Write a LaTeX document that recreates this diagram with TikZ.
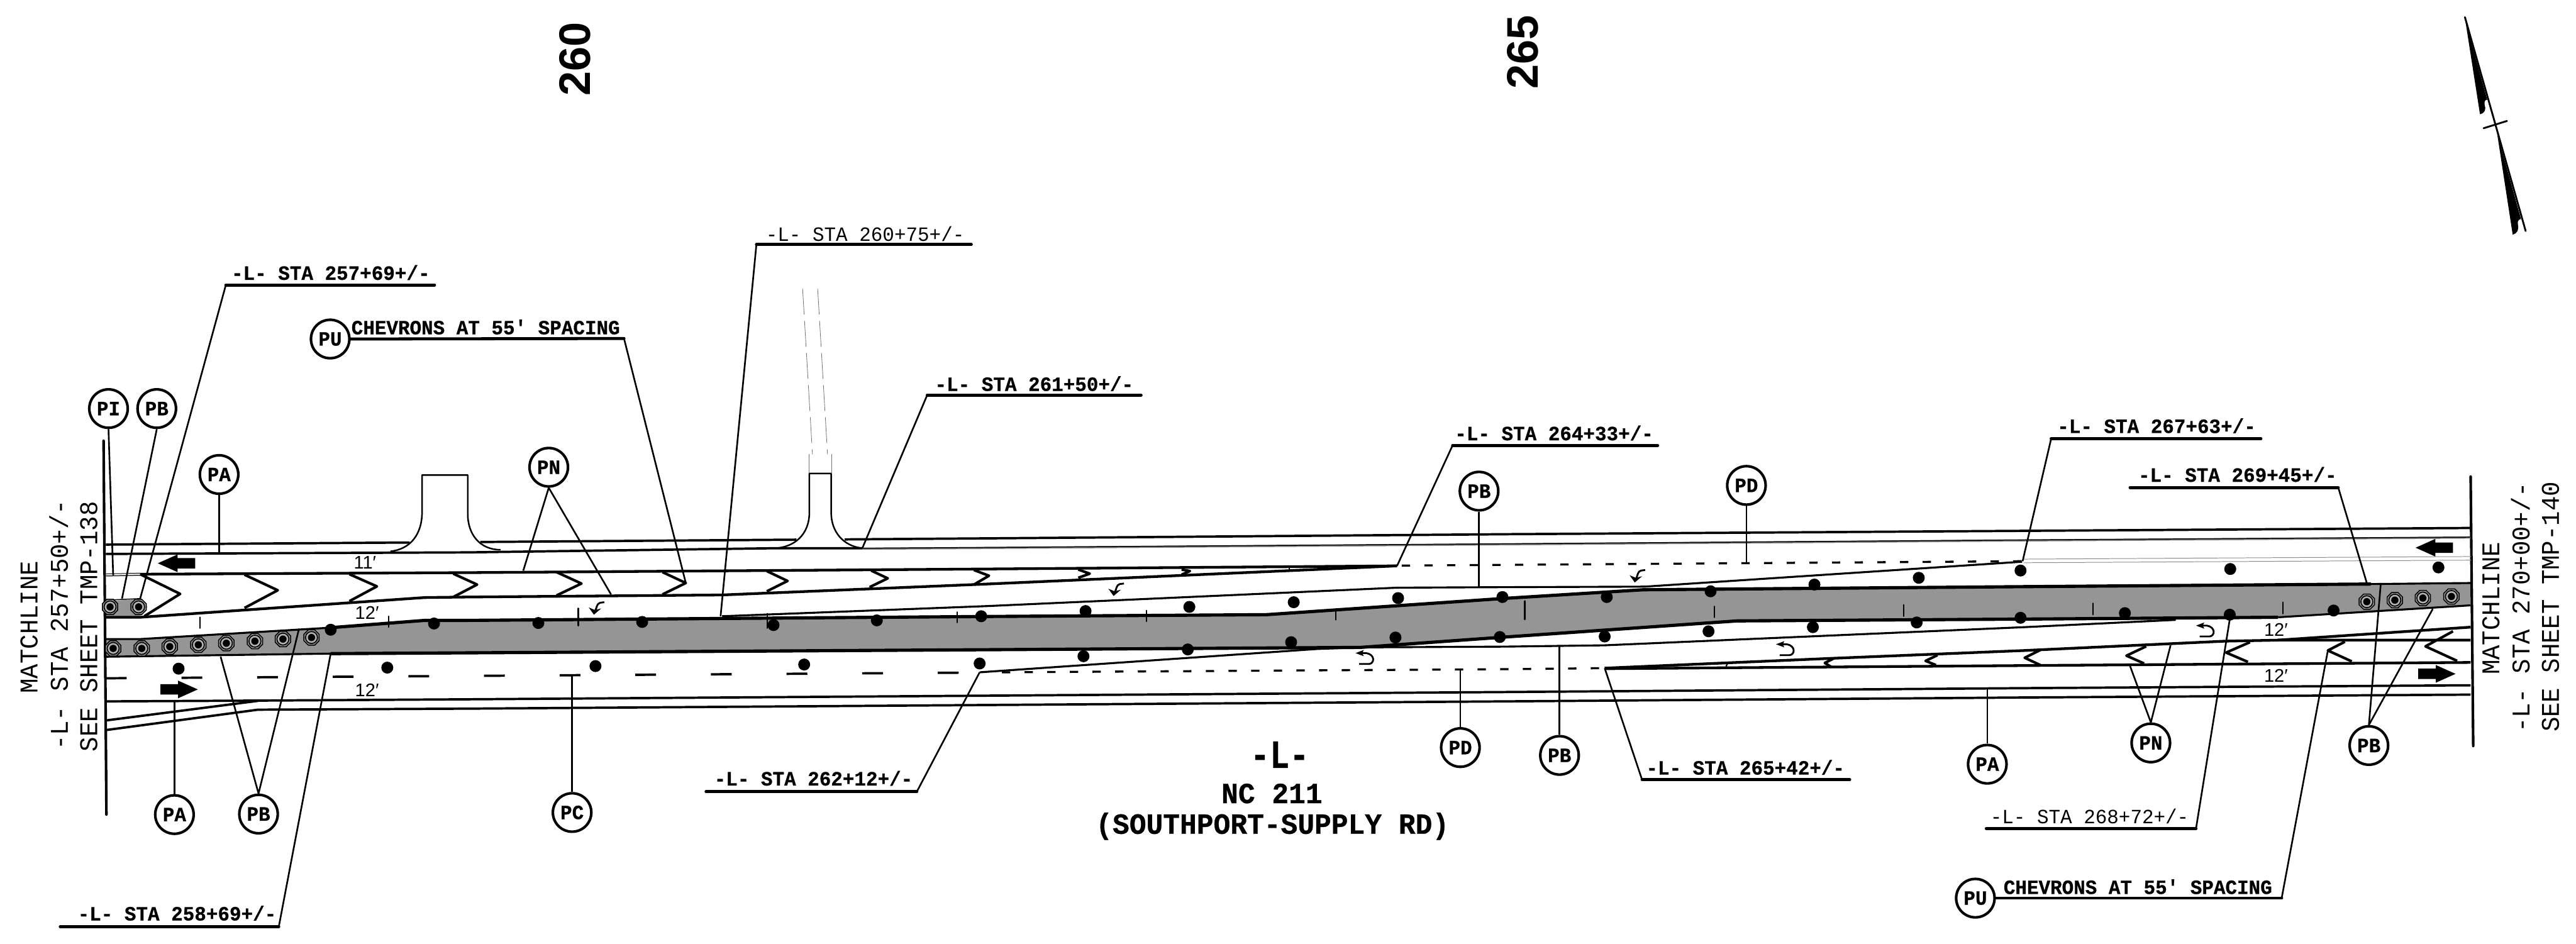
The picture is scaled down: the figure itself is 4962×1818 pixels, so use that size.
\documentclass[tikz,border=0pt]{standalone}
\usepackage{fontspec}
\newfontfamily\monof[FakeStretch=0.96,BoldFeatures={FakeBold=0.6}]{Liberation Mono}
\newfontfamily\monoL[FakeStretch=0.82,BoldFeatures={FakeBold=0.6}]{Liberation Mono}
\newfontfamily\sansn{Liberation Sans}
\newfontfamily\sansb{Liberation Sans}
\tikzset{
 road/.style={line width=0.045cm,line join=round},
 edgeb/.style={line width=0.052cm,line join=round},
 median/.style={line width=0.062cm,line join=round},
 thinl/.style={line width=0.038cm,line join=round},
 leader/.style={line width=0.032cm},
 under/.style={line width=0.058cm,line cap=round,line join=miter},
 chev/.style={line width=0.05cm,line join=round},
 drive/.style={line width=0.03cm,line join=round},
 tick/.style={line width=0.027cm,line cap=round},
 bubble/.style={circle,draw,line width=0.05cm,fill=white,minimum size=0.74cm,inner sep=0pt,font=\monof\bfseries\fontsize{11.1}{11.1}\selectfont},
 stab/.style={anchor=base,inner sep=0pt,font=\monof\bfseries\fontsize{11.1}{11.1}\selectfont},
 star/.style={anchor=base,inner sep=0pt,font=\monof\fontsize{11.1}{11.1}\selectfont},
 titleb/.style={anchor=base,inner sep=0pt,font=\monof\bfseries\fontsize{16}{16}\selectfont},
 lanew/.style={inner sep=0pt,font=\sansn\fontsize{10}{10}\selectfont},
 station/.style={rotate=90,inner sep=0pt,font=\sansb\bfseries\fontsize{24.2}{24.2}\selectfont},
 matchl/.style={rotate=90,inner sep=0pt,font=\monof\fontsize{14}{14}\selectfont},
 matchb/.style={rotate=90,inner sep=0pt,font=\monof\bfseries\fontsize{14}{14}\selectfont},
 bolt/.pic={
  \draw[line width=0.018cm,fill=black!42] (22.5:16)--(67.5:16)--(112.5:16)--(157.5:16)--(202.5:16)--(247.5:16)--(292.5:16)--(337.5:16)--cycle;
  \draw[line width=0.02cm,fill=black!30] (0,0) circle[radius=11.5];
  \fill (0,0) circle[radius=7];
 },
 lturn/.pic={
  \draw[line width=0.035cm] (15,-10)--(7,-9) .. controls (0,-7) and (1,0) .. (-3,8);
  \fill (-5,14)--(-15,0)--(-3,5)--(9,2)--cycle;
 },
 uturn/.pic={
  \draw[line width=0.035cm] (-12,11)--(7,11) .. controls (18,10) and (19,-7) .. (2,-10)--(-14,-10);
  \fill (-19,-10)--(-3,-16)--(-6,-10)--(-3,-4)--cycle;
 },
 larrow/.pic={\fill (0,0)--(38,-17)--(38,-10)--(72,-10)--(72,10)--(38,10)--(38,17)--cycle;},
 rarrow/.pic={\fill (0,0)--(-38,-17)--(-38,-10)--(-72,-10)--(-72,10)--(-38,10)--(-38,17)--cycle;},
}
\begin{document}
\begin{tikzpicture}[x=0.01cm,y=-0.01cm]
\useasboundingbox (0,0) rectangle (4962,1818);
\fill[white] (0,0) rectangle (4962,1818);

% median fill
\fill[black!41.5] (204,1231)--(270,1231)--(637,1209)--(818,1195)--(900,1195)--(1900,1187.5)--(2439,1184)--(2900,1152.5)--(3165,1136)--(3900,1130)--(4567,1125)--(4759,1123)--(4759,1166)--(4388,1189)--(3900,1192.5)--(3346,1196)--(2900,1227)--(2621,1247)--(1900,1251.5)--(900,1257.5)--(637,1259)--(204,1265)--cycle;
\fill[black!41.5] (204,1158)--(270,1154)--(284,1169)--(270,1187)--(204,1187)--cycle;

% matchlines
\draw[line width=0.05cm,line cap=round] (199.5,849)--(205,1569);
\draw[line width=0.05cm,line cap=round] (4759,918)--(4764,1437);

% driveways
\draw[drive] (752,1062) .. controls (790,1058) and (813,1030) .. (813,986)--(813,915)--(901,915)--(901,990) .. controls (901,1030) and (925,1059) .. (964,1059);
\draw[drive] (1493,1056) .. controls (1530,1054) and (1559,1030) .. (1559,987)--(1559,912)--(1601,912)--(1601,987) .. controls (1601,1025) and (1625,1052) .. (1661,1056);
\draw[black!55,line width=0.01cm,dash pattern=on 0.5cm off 0.12cm] (1546,556)--(1565,875);
\draw[black!55,line width=0.01cm,dash pattern=on 0.5cm off 0.12cm] (1575,556)--(1594,875);
\draw[black!55,line width=0.012cm] (1558,875)--(1558,911);
\draw[black!55,line width=0.012cm] (1602,875)--(1602,911);

% frontage lines
\draw[road] (204,1049)--(789,1045);
\draw[road] (925,1044)--(1534,1039.5);
\draw[road] (1627,1039)--(1900,1037)--(2900,1029)--(3900,1022.5)--(4759,1017);
\draw[road] (204,1067)--(900,1064)--(1493,1056)--(1661,1056);
\draw[black!50,line width=0.04cm] (1661,1057)--(1900,1055.5)--(2900,1048.5)--(3900,1041)--(4759,1035.5);
\draw[line width=0.018cm] (1661,1056)--(1900,1054.5)--(2900,1047.5)--(3900,1040)--(4759,1034.5);
\draw[black!45,line width=0.012cm] (3898,1077)--(4760,1072);
\draw[black!45,line width=0.012cm] (3898,1084)--(4760,1079);

% upper chevron island
\draw[line width=0.012cm] (204,1105.5)--(270,1104);
\draw[line width=0.015cm] (204,1109.5)--(270,1108);
\draw[edgeb] (270,1106)--(900,1103)--(1900,1096)--(2691,1090);
\draw[edgeb] (204,1189)--(270,1189)--(818,1151)--(900,1150)--(1391,1146)--(1900,1125)--(2691,1090);
\draw[line width=0.018cm] (204,1156)--(270,1153);
\draw[thinl] (1391,1187)--(1900,1167.5)--(2691,1132)--(2900,1131)--(3168,1130)--(3895,1082);
\draw[line width=0.04cm,dash pattern=on 0.16cm off 0.276cm] (2700,1089.5)--(2900,1088)--(3895,1081);

% median edges
\draw[thinl] (204,1231)--(270,1231)--(637,1209);
\draw[median] (637,1209)--(818,1195)--(900,1195)--(1900,1187.5)--(2439,1184)--(2900,1152.5)--(3165,1136)--(3900,1130)--(4567,1125);
\draw[thinl] (4567,1125)--(4759,1123);
\draw[thinl] (204,1265)--(637,1259);
\draw[median] (637,1259)--(900,1257.5)--(1900,1251.5)--(2621,1247)--(2900,1227)--(3346,1196)--(3900,1192.5)--(4388,1189);
\draw[thinl] (4388,1189)--(4759,1166);

% lower lane lines
\draw[thinl] (1887,1295)--(2538,1250)--(2621,1247)--(2900,1245.5)--(3091,1243)--(3900,1208)--(4191,1194);
\draw[line width=0.045cm,dash pattern=on 0.4cm off 1.056cm] (204,1306.5)--(1887,1295.5);
\draw[line width=0.04cm,dash pattern=on 0.16cm off 0.276cm] (1930,1295)--(2900,1289)--(3091,1287);
\draw[edgeb] (3091,1287)--(3531,1268)--(3900,1253)--(4286,1235)--(4391,1233)--(4759,1233);
\draw[edgeb] (3091,1288)--(3900,1282)--(4759,1276);
\draw[edgeb] (4388,1233)--(4759,1208);

% bottom road
\draw[road] (206,1351)--(497,1349.5)--(900,1347)--(1900,1340)--(2900,1333)--(3900,1325.5)--(4759,1320);
\draw[road] (206,1387.5)--(497,1350);
\draw[road] (206,1406)--(497,1367)--(900,1365)--(1900,1358)--(2900,1351)--(3900,1343.5)--(4759,1338);

% chevrons
\foreach \a/\b/\c/\d/\e/\f in {270/1106/347/1144/278/1187,471/1107/535/1137/471/1171,673/1106/726/1129.5/673/1158,873/1105/919/1126/873/1150,1072/1102/1120/1124/1072/1147,1276/1102/1321/1123/1276/1145,1477/1100/1517/1119/1477/1139,1678/1099/1710/1114/1675/1131,1876/1098/1905/1109/1876/1126,2077/1097/2099/1105/2077/1113,2276/1097/2292/1100/2276/1107,3531/1269/3515/1277/3528/1285,3732/1262/3709/1273/3729/1281,3930/1252/3900/1267/3930/1281,4134/1245/4096/1263/4130/1278,4334/1237/4288/1257/4330/1275,4517/1236/4484/1253/4530/1274,4725/1216/4672/1245/4733/1273}
 \draw[chev] (\a,\b)--(\c,\d)--(\e,\f);
\draw[tick] (2483,1093)--(2483,1100);
\draw[tick] (3327,1279)--(3325,1283);

% ticks
\foreach \x/\y/\z in {385/1189/1210,749/1187/1208,1478/1182/1210,1844/1179/1199,2208/1176/1197,2573/1178/1194,3302/1168/1189,3667/1165/1187,4032/1162/1184,4397/1160/1182}
 \draw[tick] (\x,\y)--(\x,\z);
\draw[line width=0.035cm,line cap=round] (1114,1172)--(1114,1205);
\draw[line width=0.035cm,line cap=round] (2937,1158)--(2937,1193);

% bolts
\foreach \x/\y in {212/1169,267/1169,218/1249,273/1249,327/1245.5,382/1242,436/1239,491/1235,545/1231,600/1228,4559/1159,4613/1156,4667/1152,4722/1149}
 \pic at (\x,\y) {bolt};

% dots
\foreach \x/\y in {637/1213,836/1201,1037/1200,1237/1198,1490/1204,1689/1195,1890/1187,2091/1177,2291/1169,2492/1160,2693/1152,2894/1150,3095/1150,3295/1139,3495/1126,3696/1113,3892/1099,4296/1096,4697/1093,344/1288,746/1286,1147/1283,1549/1280,1887/1278,2087/1264,2288/1251,2487/1237,2688/1228,2889/1227,3091/1226,3291/1216,3492/1208,3692/1199,3892/1190,4093/1181,4295/1184,4495/1176}
 \fill (\x,\y) circle[radius=11.5];

% pavement arrows
\foreach \x/\y in {1149/1170,2150/1134,3154/1108} \pic at (\x,\y) {lturn};
\foreach \x/\y in {2630/1268,3440/1251,4249/1215} \pic at (\x,\y) {uturn};
\pic at (304,1085) {larrow};
\pic at (4653,1055) {larrow};
\pic at (381,1328) {rarrow};
\pic at (4730,1298) {rarrow};

% lane widths
\node[lanew] (w1) at (703,1084) {11′};
\node[lanew] (w2) at (707,1180) {12′};
\node[lanew] (w3) at (707,1329) {12′};
\node[lanew] (w4) at (4384,1213) {12′};
\node[lanew] (w5) at (4384,1302) {12′};

% bubbles
\node[bubble] (pi) at (209,787) {PI};
\node[bubble] (pba) at (302,787) {PB};
\node[bubble] (paa) at (422,914) {PA};
\node[bubble] (pua) at (636,653) {PU};
\node[bubble] (pna) at (1057,900) {PN};
\node[bubble] (pbb) at (2849,946) {PB};
\node[bubble] (pda) at (3364,935) {PD};
\node[bubble] (pab) at (336,1569) {PA};
\node[bubble] (pbc) at (498,1568) {PB};
\node[bubble] (pc) at (1102,1565) {PC};
\node[bubble] (pdb) at (2813,1440) {PD};
\node[bubble] (pbd) at (3004,1455) {PB};
\node[bubble] (pac) at (3828,1472) {PA};
\node[bubble] (pnb) at (4143,1431) {PN};
\node[bubble] (pbe) at (4563,1436) {PB};
\node[bubble] (pub) at (3805,1730) {PU};

% leader ends
\coordinate (e1) at (218,1108);
\coordinate (e2) at (235,1153);
\coordinate (e3) at (422,1064);
\coordinate (e4) at (1008,1099);
\coordinate (e5) at (1177,1145);
\coordinate (e6) at (2849,1131);
\coordinate (e7) at (3364,1085);
\coordinate (e8) at (336,1352);
\coordinate (e9) at (425,1265);
\coordinate (e10) at (576,1211);
\coordinate (e11) at (1102,1302);
\coordinate (e12) at (2813,1289);
\coordinate (e13) at (3004,1245);
\coordinate (e14) at (3828,1328);
\coordinate (e15) at (4181,1243);
\coordinate (e16) at (4103,1283);
\coordinate (e17) at (4586,1123);
\coordinate (e18) at (4686,1173);
\draw[leader] (pi.south)--(e1);
\draw[leader] (pba.south)--(e2);
\draw[leader] (paa)--(e3);
\draw[leader] (pna.south)--(e4);
\draw[leader] (pna.south)--(e5);
\draw[leader] (pbb)--(e6);
\draw[leader] (pda)--(e7);
\draw[leader] (pab)--(e8);
\draw[leader] (pbc.north)--(e9);
\draw[leader] (pbc.north)--(e10);
\draw[leader] (pc)--(e11);
\draw[leader] (pdb)--(e12);
\draw[leader] (pbd)--(e13);
\draw[leader] (pac)--(e14);
\draw[leader] (pnb.north)--(e15);
\draw[leader] (pnb.north)--(e16);
\draw[leader] (pbe.north)--(e17);
\draw[leader] (pbe.north)--(e18);

% station labels
\node[stab] (s1) at (637,539) {-L- STA 257+69+/-};
\coordinate (s1a) at (435,549); \coordinate (s1b) at (837,549); \coordinate (s1c) at (270,1153);
\draw[under] (s1b)--(s1a); \draw[leader] (s1a)--(s1c);

\node[stab] (cha) at (935.5,644) {CHEVRONS AT 55′ SPACING};
\coordinate (cha1) at (1202,652); \coordinate (cha2) at (1321,1123);
\draw[under] (pua.east)--(cha1); \draw[leader] (cha1)--(cha2);

\node[star] (s2) at (1666.5,465) {-L- STA 260+75+/-};
\coordinate (s2a) at (1457,471); \coordinate (s2b) at (1871,471); \coordinate (s2c) at (1388,1187);
\draw[under] (s2b)--(s2a); \draw[leader] (s2a)--(s2c);

\node[stab] (s3) at (1992,753) {-L- STA 261+50+/-};
\coordinate (s3a) at (1786,761); \coordinate (s3b) at (2198,761); \coordinate (s3c) at (1661,1056);
\draw[under] (s3b)--(s3a); \draw[leader] (s3a)--(s3c);

\node[stab] (s4) at (2993.5,848) {-L- STA 264+33+/-};
\coordinate (s4a) at (2798,858); \coordinate (s4b) at (3193,858); \coordinate (s4c) at (2691,1090);
\draw[under] (s4b)--(s4a); \draw[leader] (s4a)--(s4c);

\node[stab] (s5) at (4154,834) {-L- STA 267+63+/-};
\coordinate (s5a) at (3951,845); \coordinate (s5b) at (4355,845); \coordinate (s5c) at (3896,1081);
\draw[under] (s5b)--(s5a); \draw[leader] (s5a)--(s5c);

\node[stab] (s6) at (4310,928) {-L- STA 269+45+/-};
\coordinate (s6a) at (4504,939); \coordinate (s6b) at (4103,939); \coordinate (s6c) at (4559,1123);
\draw[under] (s6b)--(s6a); \draw[leader] (s6a)--(s6c);

\node[stab] (s7) at (341,1773) {-L- STA 258+69+/-};
\coordinate (s7a) at (537,1785); \coordinate (s7b) at (116,1785); \coordinate (s7c) at (637,1259);
\draw[under] (s7b)--(s7a); \draw[leader] (s7a)--(s7c);

\node[stab] (s8) at (1567,1513) {-L- STA 262+12+/-};
\coordinate (s8a) at (1766,1525); \coordinate (s8b) at (1360,1525); \coordinate (s8c) at (1887,1295);
\draw[under] (s8b)--(s8a); \draw[leader] (s8a)--(s8c);

\node[stab] (s9) at (3362,1492) {-L- STA 265+42+/-};
\coordinate (s9a) at (3163,1502); \coordinate (s9b) at (3563,1502); \coordinate (s9c) at (3091,1287);
\draw[under] (s9b)--(s9a); \draw[leader] (s9a)--(s9c);

\node[star] (s10) at (4025,1586) {-L- STA 268+72+/-};
\coordinate (s10a) at (4230,1596); \coordinate (s10b) at (3826,1596); \coordinate (s10c) at (4295,1193);
\draw[under] (s10b)--(s10a); \draw[leader] (s10a)--(s10c);

\node[stab] (chb) at (4118,1722) {CHEVRONS AT 55′ SPACING};
\coordinate (chb1) at (4395,1730); \coordinate (chb2) at (4484,1253);
\draw[under] (pub.east)--(chb1); \draw[leader] (chb1)--(chb2);

% road title
\node[anchor=base,inner sep=0pt,font=\monoL\bfseries\fontsize{21.9}{21.9}\selectfont] (t1) at (2465,1479) {-L-};
\node[titleb] (t2) at (2450,1547) {NC 211};
\node[titleb] (t3) at (2451,1606) {(SOUTHPORT-SUPPLY RD)};

% stationing
\node[station] (st1) at (1108,114) {260};
\node[station] (st2) at (2933,101) {265};

% matchline text
\node[matchl] (ml1) at (56,1208) {MATCHLINE};
\node[matchl] (ml2) at (113,1204) {-L- STA 257+50+/-};
\node[matchl] (ml3) at (171,1207) {SEE SHEET TMP-138};
\node[matchl] (mr1) at (4798,1172) {MATCHLINE};
\node[matchl] (mr2) at (4855,1170) {-L- STA 270+00+/-};
\node[matchl] (mr3) at (4913,1169) {SEE SHEET TMP-140};

% north arrow
\draw[line width=0.035cm,line cap=round] (4748,33)--(4865,445);
\draw[line width=0.035cm,line cap=round] (4784,247)--(4829,233);
\fill (4749,41)--(4791,192) .. controls (4786,192) and (4785,197) .. (4786,202) .. controls (4789,210) and (4787,218) .. (4777,220)--cycle;
\fill (4810,257)--(4856,422) .. controls (4851,422) and (4849,427) .. (4850,432) .. controls (4852,442) and (4850,449) .. (4840,452)--cycle;
\end{tikzpicture}
\end{document}
